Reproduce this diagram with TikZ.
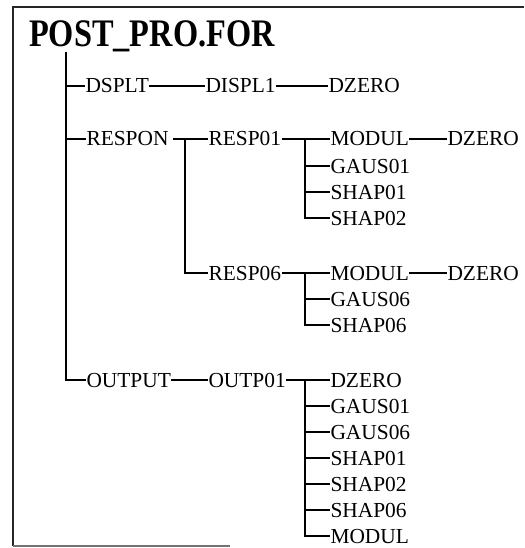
\documentclass[tikz,border=0pt]{standalone}
\usepackage{fontspec}
\usepackage{graphicx}
\setmainfont{Liberation Serif}
\tikzset{
  lbl/.style={anchor=west, inner sep=0pt, inner xsep=0.5pt, outer sep=0pt,
    text height=14pt, text depth=0pt, font=\fontsize{21.4}{24}\selectfont},
  conn/.style={line width=2.2pt, black},
  frame/.style={line width=2.8pt, black!85}
}
\begin{document}
\begin{tikzpicture}[x=1pt,y=-1pt]
\useasboundingbox (0,0) rectangle (524,548);
% frame
\draw[frame] (13,546) -- (13,7) -- (524,7);
\draw[line width=2pt, black!55] (13,546) -- (230,546);
% title
\node[anchor=base west, inner sep=0pt] (title) at (29,47)
  {\scalebox{0.83}[1]{\fontsize{39}{42}\selectfont\bfseries POST\_PRO.FOR}};
% level 1
\node[lbl] (dsplt)  at (85,86)  {DSPLT};
\node[lbl] (respon) at (86,139) {RESPON};
\node[lbl] (output) at (86,380) {OUTPUT};
% level 2
\node[lbl] (displ1) at (205,86)  {DISPL1};
\node[lbl] (resp01) at (208,139) {RESP01};
\node[lbl] (resp06) at (208,273) {RESP06};
\node[lbl] (outp01) at (208,380) {OUTP01};
% level 3
\node[lbl] (dz0) at (328,86) {DZERO};
\node[lbl] (ma)  at (330,139) {MODUL};
\node[lbl] (ga)  at (330,166) {GAUS01};
\node[lbl] (sa1) at (330,192) {SHAP01};
\node[lbl] (sa2) at (330,218) {SHAP02};
\node[lbl] (mb)  at (330,273) {MODUL};
\node[lbl] (gb)  at (330,299) {GAUS06};
\node[lbl] (sb)  at (330,325) {SHAP06};
\node[lbl] (oz)  at (330,380) {DZERO};
\node[lbl] (og1) at (330,406) {GAUS01};
\node[lbl] (og6) at (330,432) {GAUS06};
\node[lbl] (os1) at (330,458) {SHAP01};
\node[lbl] (os2) at (330,484) {SHAP02};
\node[lbl] (os6) at (330,510) {SHAP06};
\node[lbl] (om)  at (330,536) {MODUL};
% level 4
\node[lbl] (dza) at (447,139) {DZERO};
\node[lbl] (dzb) at (447,273) {DZERO};
% junction coordinates
\coordinate (j0) at (66,52);
\coordinate (j1) at (185,139);
\coordinate (j2) at (305,139);
\coordinate (j3) at (305,273);
\coordinate (j4) at (305,380);
% connectors
\draw[conn] (j0) |- (dsplt.west);
\draw[conn] (j0) |- (respon.west);
\draw[conn] (j0) |- (output.west);
\draw[conn] (dsplt.east) -- (displ1.west);
\draw[conn] (displ1.east) -- (dz0.west);
\draw[conn] ([xshift=4pt]respon.east) -- (resp01.west);
\draw[conn] (j1) |- (resp06.west);
\draw[conn] (resp01.east) -- (ma.west);
\draw[conn] (j2) |- (ga.west);
\draw[conn] (j2) |- (sa1.west);
\draw[conn] (j2) |- (sa2.west);
\draw[conn] (ma.east) -- (dza.west);
\draw[conn] (resp06.east) -- (mb.west);
\draw[conn] (j3) |- (gb.west);
\draw[conn] (j3) |- (sb.west);
\draw[conn] (mb.east) -- (dzb.west);
\draw[conn] (output.east) -- (outp01.west);
\draw[conn] (outp01.east) -- (oz.west);
\draw[conn] (j4) |- (og1.west);
\draw[conn] (j4) |- (og6.west);
\draw[conn] (j4) |- (os1.west);
\draw[conn] (j4) |- (os2.west);
\draw[conn] (j4) |- (os6.west);
\draw[conn] (j4) |- (om.west);
\end{tikzpicture}
\end{document}
